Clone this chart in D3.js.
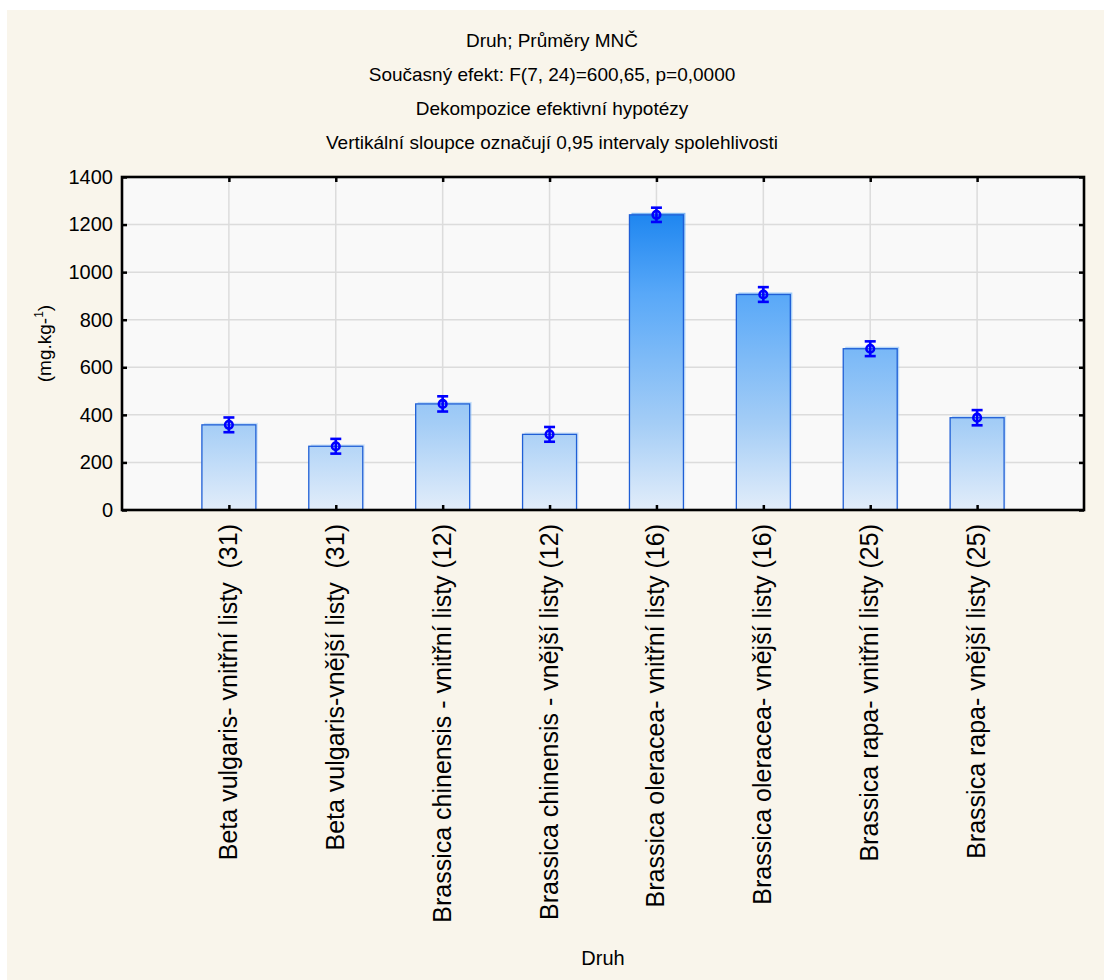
<!DOCTYPE html>
<html>
<head>
<meta charset="utf-8">
<script src="https://cdn.jsdelivr.net/npm/d3@7"></script>
<style>
  html, body { margin: 0; padding: 0; background: #ffffff; }
  svg { display: block; font-family: "Liberation Sans", Arial, sans-serif; }
  text { white-space: pre; }
</style>
</head>
<body>
<svg id="chart" width="1104" height="980"></svg>
<script>
// Category labels (species and leaf position, with group code)
const categories = [
  "Beta vulgaris- vnitřní listy  (31)",
  "Beta vulgaris-vnější listy  (31)",
  "Brassica chinensis - vnitřní listy (12)",
  "Brassica chinensis - vnější listy (12)",
  "Brassica oleracea- vnitřní listy (16)",
  "Brassica oleracea- vnější listy (16)",
  "Brassica rapa- vnitřní listy (25)",
  "Brassica rapa- vnější listy (25)"
];
// Least-squares means (mg.kg-1)
const means = [358, 268, 446, 318, 1241, 906, 678, 388];
// Half-width of the 0.95 confidence interval
const ciHalf = [31, 31, 32, 31, 30, 31, 31, 32];
// Y axis ticks
const yTicks = [0, 200, 400, 600, 800, 1000, 1200, 1400];
const titleLines = [
  "Druh; Průměry MNČ",
  "Současný efekt: F(7, 24)=600,65, p=0,0000",
  "Dekompozice efektivní hypotézy",
  "Vertikální sloupce označují 0,95 intervaly spolehlivosti"
];

const svg = d3.select("#chart");
const W = 1104, H = 980;
const plot = { left: 122, right: 1084, top: 177, bottom: 510 };

// page background
svg.append("rect").attr("x", 7).attr("y", 10).attr("width", W - 7).attr("height", H - 10)
  .attr("fill", "#f9f5eb");

const x = d3.scaleLinear().domain([0, categories.length + 1]).range([plot.left, plot.right]);
const y = d3.scaleLinear().domain([0, 1400]).range([plot.bottom, plot.top]);
const barW = (x(1) - x(0)) * 0.505;

// gradient tied to the value axis, deep blue at the top to pale at zero
const defs = svg.append("defs");
const grad = defs.append("linearGradient").attr("id", "barGrad")
  .attr("gradientUnits", "userSpaceOnUse")
  .attr("x1", 0).attr("x2", 0).attr("y1", y(1400)).attr("y2", y(0));
[[0, "#0a76ea"], [0.11, "#1e86f0"], [0.35, "#58a8f8"], [0.74, "#a4cdf6"], [1, "#e2edfa"]]
  .forEach(([o, c]) => grad.append("stop").attr("offset", o).attr("stop-color", c));

// plot background
svg.append("rect").attr("x", plot.left).attr("y", plot.top)
  .attr("width", plot.right - plot.left).attr("height", plot.bottom - plot.top)
  .attr("fill", "#f9f9f9");

// grid
const grid = svg.append("g").attr("stroke", "#dcdcdc").attr("stroke-width", 1.5);
grid.selectAll("line.h").data(yTicks.slice(1, -1)).join("line")
  .attr("x1", plot.left).attr("x2", plot.right)
  .attr("y1", d => y(d)).attr("y2", d => y(d));
grid.selectAll("line.v").data(categories).join("line")
  .attr("x1", (d, i) => x(i + 1)).attr("x2", (d, i) => x(i + 1))
  .attr("y1", plot.top).attr("y2", plot.bottom);

// bars: soft offset copy behind, then the bar itself
const bars = svg.append("g");
bars.selectAll("rect.shade").data(means).join("rect")
  .attr("x", (d, i) => x(i + 1) - barW / 2 + 2)
  .attr("y", d => y(d) - 2)
  .attr("width", barW)
  .attr("height", d => y(0) - y(d))
  .attr("fill", "url(#barGrad)").attr("opacity", 0.55);
bars.selectAll("rect.bar").data(means).join("rect")
  .attr("x", (d, i) => x(i + 1) - barW / 2)
  .attr("y", d => y(d))
  .attr("width", barW)
  .attr("height", d => y(0) - y(d))
  .attr("fill", "url(#barGrad)")
  .attr("stroke", "#1f5fd6").attr("stroke-width", 1.3);

// confidence intervals with mean markers
const err = svg.append("g").attr("stroke", "#0000ff").attr("stroke-width", 2.6).attr("fill", "none");
means.forEach((m, i) => {
  const cx = x(i + 1), lo = y(m - ciHalf[i]), hi = y(m + ciHalf[i]);
  err.append("line").attr("x1", cx).attr("x2", cx).attr("y1", lo).attr("y2", hi);
  err.append("line").attr("x1", cx - 5.5).attr("x2", cx + 5.5).attr("y1", lo).attr("y2", lo);
  err.append("line").attr("x1", cx - 5.5).attr("x2", cx + 5.5).attr("y1", hi).attr("y2", hi);
  err.append("circle").attr("cx", cx).attr("cy", y(m)).attr("r", 3.8);
});

// axes with inward ticks on all four sides
const styleAxis = g => {
  g.select(".domain").remove();
  g.selectAll(".tick line").attr("stroke", "#000").attr("stroke-width", 2.5);
};
svg.append("g").attr("transform", `translate(${plot.left},0)`)
  .call(d3.axisLeft(y).tickValues(yTicks).tickSize(-5).tickPadding(9).tickFormat(d3.format("d")))
  .call(styleAxis)
  .call(g => g.selectAll("text").attr("font-size", 20).attr("fill", "#000")
    .attr("font-family", "Liberation Sans, Arial, sans-serif"));
svg.append("g").attr("transform", `translate(${plot.right},0)`)
  .call(d3.axisRight(y).tickValues(yTicks).tickSize(-5).tickFormat(""))
  .call(styleAxis);
const catTicks = categories.map((d, i) => i + 1);
svg.append("g").attr("transform", `translate(0,${plot.bottom})`)
  .call(d3.axisBottom(x).tickValues(catTicks).tickSize(-5).tickFormat(""))
  .call(styleAxis);
svg.append("g").attr("transform", `translate(0,${plot.top})`)
  .call(d3.axisTop(x).tickValues(catTicks).tickSize(-5).tickFormat(""))
  .call(styleAxis);

// frame
svg.append("rect").attr("x", plot.left).attr("y", plot.top)
  .attr("width", plot.right - plot.left).attr("height", plot.bottom - plot.top)
  .attr("fill", "none").attr("stroke", "#000").attr("stroke-width", 2.6);

// category labels, rotated
svg.append("g").selectAll("text").data(categories).join("text")
  .attr("transform", (d, i) => `translate(${x(i + 1) + 8},${plot.bottom + 14}) rotate(-90)`)
  .attr("text-anchor", "end").attr("font-size", 25).attr("fill", "#000")
  .text(d => d);

// titles
svg.append("g").selectAll("text").data(titleLines).join("text")
  .attr("x", W / 2).attr("y", (d, i) => 47 + i * 34)
  .attr("text-anchor", "middle").attr("font-size", 19).attr("fill", "#000")
  .text(d => d);

// x axis title
svg.append("text").attr("x", (plot.left + plot.right) / 2).attr("y", 965)
  .attr("text-anchor", "middle").attr("font-size", 20).attr("fill", "#000").text("Druh");

// y axis title with superscript
const yt = svg.append("text")
  .attr("transform", `translate(51,${(plot.top + plot.bottom) / 2}) rotate(-90)`)
  .attr("text-anchor", "middle").attr("font-size", 19).attr("fill", "#000");
yt.append("tspan").text("(mg.kg-");
yt.append("tspan").attr("font-size", 12).attr("dy", -8).text("1");
yt.append("tspan").attr("dy", 8).text(")");
</script>
</body>
</html>
